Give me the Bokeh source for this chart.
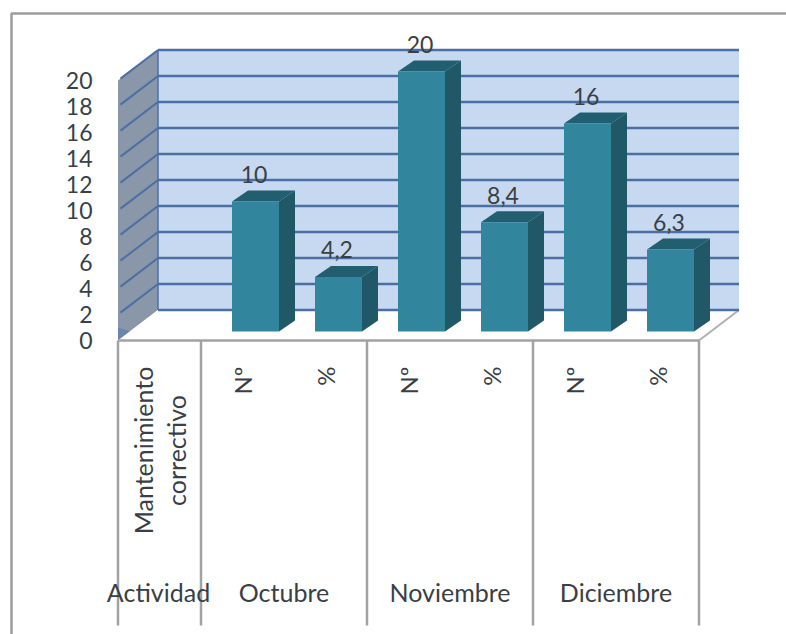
from math import pi

from bokeh.core.properties import value
from bokeh.embed import file_html
from bokeh.models import Range1d
from bokeh.plotting import figure
from bokeh.resources import INLINE

# Chart data
activity_lines = ["Mantenimiento", "correctivo"]
activity_header = "Actividad"
months = ["Octubre", "Noviembre", "Diciembre"]
measures = ["Nº", "%", "Nº", "%", "Nº", "%"]
values = [10, 4.2, 20, 8.4, 16, 6.3]
value_labels = ["10", "4,2", "20", "8,4", "16", "6,3"]
y_ticks = [0, 2, 4, 6, 8, 10, 12, 14, 16, 18, 20]

# Page size and the pixel scale of the two data axes
W, H = 786, 634
SLOT = 83.0          # pixels per category slot
UNIT = 13.0          # pixels per value unit
X0 = 117.5           # page x of slot 0, front left corner of the chart box
Y0 = 331.0           # page y of value 0 at the foot of the bars
SLOTS = 7


def sx(px):
    return (px - X0) / SLOT


def sy(py):
    return (Y0 - py) / UNIT


p = figure(
    width=W, height=H, output_backend="svg", toolbar_location=None,
    x_range=Range1d(sx(0), sx(W)), y_range=Range1d(sy(H), sy(0)),
    x_axis_type=None, y_axis_type=None, min_border=0,
    background_fill_color="white", border_fill_color="white",
)
p.grid.visible = False
p.outline_line_color = None

FONT = value("Lato")
INK = "#3a3f45"
GRID = "#4c6fa3"
RULE = "#a2a2a2"

# Outer frame of the slide
p.line([sx(11), sx(11), sx(W)], [sy(H), sy(13), sy(13)], line_color="#9c9c9c", line_width=2.5)

# Offsets of the box: front plane, back wall and its depth
front = sy(340)
depth_x = 40 / SLOT
depth_y = 30.5 / UNIT
top = max(y_ticks)
right = float(SLOTS)

# Back wall and side wall
p.patch([depth_x, right + depth_x, right + depth_x, depth_x],
        [front + depth_y, front + depth_y, front + depth_y + top, front + depth_y + top],
        fill_color="#c6d9f1", line_color=None)
p.patch([0, depth_x, depth_x, 0],
        [front, front + depth_y, front + depth_y + top, front + top],
        fill_color="#8a97a9", line_color=None)
# Blue corner of the side wall at the floor
p.patch([0, depth_x * 0.3, 0], [front, front + depth_y * 0.3, front + 1.0],
        fill_color="#6a86ad", line_color=None)

# Floor
p.patch([0, depth_x, right + depth_x, right],
        [front, front + depth_y, front + depth_y, front],
        fill_color="white", line_color=None)
p.line([right, right + depth_x], [front, front + depth_y], line_color="#b0b0b0", line_width=2)

# Gridlines across the side wall and along the back wall
for t in y_ticks:
    if t > 0:
        p.line([0.03, depth_x], [front + t + depth_y * 0.03 * SLOT / 40, front + t + depth_y],
               line_color=GRID, line_width=2)
    p.line([depth_x, right + depth_x], [front + t + depth_y, front + t + depth_y],
           line_color=GRID, line_width=2.4)
p.line([depth_x, depth_x], [front + depth_y, front + depth_y + top], line_color=GRID, line_width=1.5)

# 3D columns: front face, top and side, all driven by the values
bar_w = 47 / SLOT
bar_dx = 16 / SLOT
bar_dy = 11 / UNIT
left = [k + 1 + 0.5 + 13 / SLOT - bar_w / 2 for k in range(len(values))]
edge = [x + bar_w for x in left]

p.patches(
    [[r, r + bar_dx, r + bar_dx, r] for r in edge],
    [[0, bar_dy, v + bar_dy, v] for v in values],
    fill_color="#205867", line_color=None,
)
p.patches(
    [[l, l + bar_dx, r + bar_dx, r] for l, r in zip(left, edge)],
    [[v, v + bar_dy, v + bar_dy, v] for v in values],
    fill_color="#215e70", line_color=None,
)
p.quad(left=left, right=edge, bottom=0, top=values, fill_color="#31859c", line_color=None)

# Value labels above the columns
p.text(
    x=[(l + r) / 2 - 1.5 / SLOT for l, r in zip(left, edge)],
    y=[v + 27 / UNIT for v in values],
    text=value_labels, text_font=FONT, text_font_size="23px", text_color=INK,
    text_align="center", text_baseline="middle",
)

# Value axis labels on the front plane
p.text(
    x=[sx(92)] * len(y_ticks), y=[front + t for t in y_ticks],
    text=[str(t) for t in y_ticks], text_font=FONT, text_font_size="23px", text_color=INK,
    text_align="right", text_baseline="middle",
)

# Category table under the floor
foot = sy(625)
p.line([0, right], [front, front], line_color=RULE, line_width=2.5)
for slot in [0, 1, 3, 5, 7]:
    p.line([slot, slot], [front, foot], line_color=RULE, line_width=2.5)

p.text(x=[sx(142), sx(175)], y=[sy(450)] * 2, text=activity_lines, angle=pi / 2,
       text_font=FONT, text_font_size="25px", text_color=INK,
       text_align="center", text_baseline="middle")
p.text(x=[k + 1.5 for k in range(len(measures))], y=[sy(366)] * len(measures),
       text=measures, angle=pi / 2, text_font=FONT, text_font_size="24px", text_color=INK,
       text_align="right", text_baseline="middle")

label_y = sy(591.5)
p.text(x=[sx(158)], y=[label_y], text=[activity_header], text_font=FONT, text_font_size="25px",
       text_color=INK, text_align="center", text_baseline="middle")
p.text(x=[2.0, 4.0, 6.0], y=[label_y] * 3, text=months, text_font=FONT, text_font_size="25px",
       text_color=INK, text_align="center", text_baseline="middle")

open("out.html", "w").write(file_html(p, INLINE))
